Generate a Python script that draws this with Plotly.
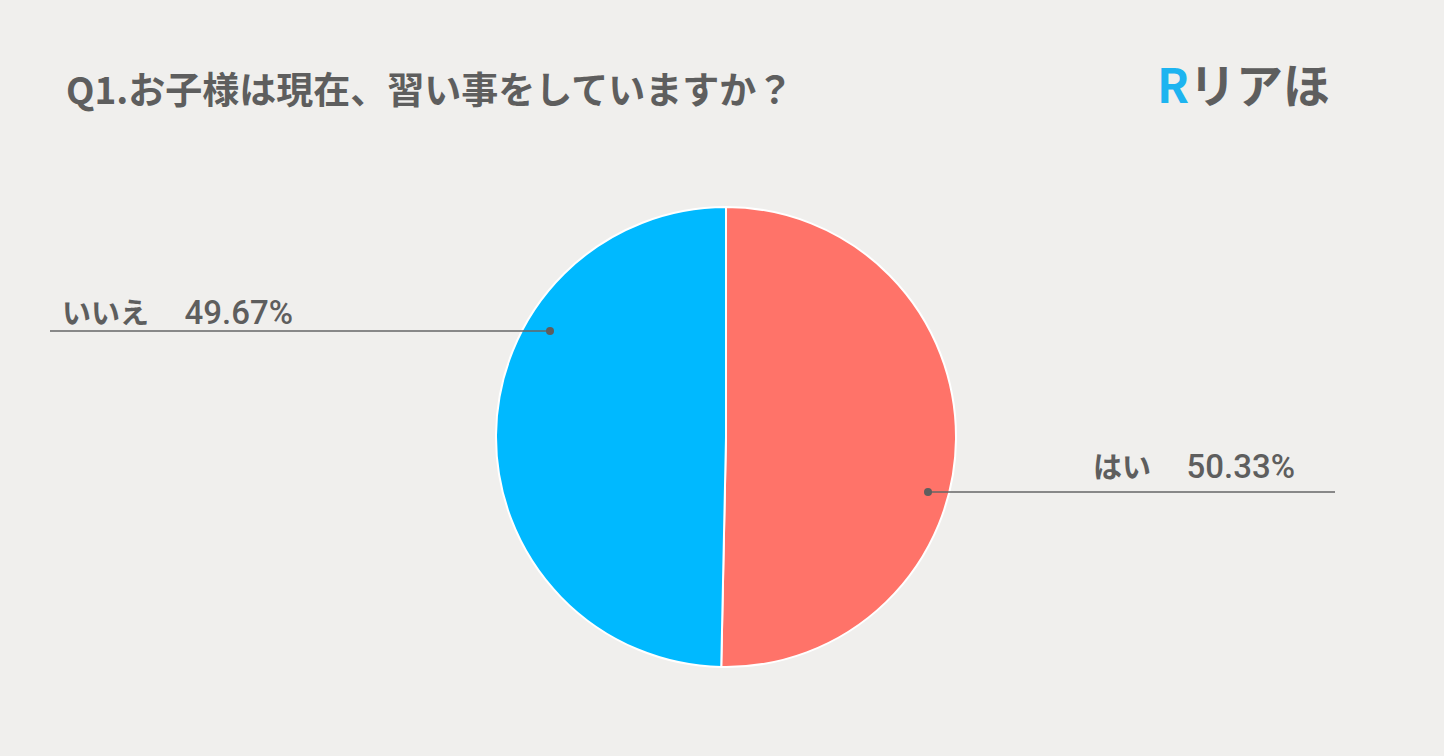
import plotly.graph_objects as go

# Survey answers and their shares (%)
labels = ["はい", "いいえ"]
shares = [50.33, 49.67]
colors = ["#FF7369", "#00B9FF"]

title_text = "Q1.お子様は現在、習い事をしていますか？"

W, H = 1444, 756
BG = "#F0EFED"
TXT = "#5E5E5E"
FONT = "Noto Sans CJK JP"
NUM_FONT = "Roboto"

# pie placement in pixels
cx, cy, r = 726, 437, 230

fig = go.Figure(
    go.Pie(
        labels=labels,
        values=shares,
        sort=False,
        direction="clockwise",
        rotation=0,
        marker=dict(colors=colors, line=dict(color="#FFFFFF", width=2)),
        textinfo="none",
        hoverinfo="label+percent",
        showlegend=False,
        domain=dict(
            x=[(cx - r) / W, (cx + r) / W],
            y=[1 - (cy + r) / H, 1 - (cy - r) / H],
        ),
    )
)


def px(x):
    return x / W


def py(y):
    return 1 - y / H


annotations = [
    dict(
        x=px(64), y=py(88), xref="paper", yref="paper",
        text=f"<b>{title_text}</b>", showarrow=False,
        xanchor="left", yanchor="middle",
        font=dict(family=FONT, size=37, color=TXT),
    ),
    dict(
        x=px(1155), y=py(82), xref="paper", yref="paper",
        text="<b><span style='color:#1DB4F0'>R</span>リアほ</b>", showarrow=False,
        xanchor="left", yanchor="middle",
        font=dict(family=FONT, size=47, color=TXT),
    ),
]

# callout lines with labels: (label index, line y, line x0, line x1, text x, text y, anchor)
callouts = [
    (1, 331, 50, 550, 60, 311, "left"),
    (0, 492, 928, 1335, 1297, 465, "right"),
]
shapes = []
for idx, ly, x0, x1, tx, ty, anchor in callouts:
    shapes.append(dict(
        type="line", xref="paper", yref="paper",
        x0=px(x0), x1=px(x1), y0=py(ly), y1=py(ly),
        line=dict(color="#666666", width=1.3),
    ))
    dot_x = x1 if anchor == "left" else x0
    shapes.append(dict(
        type="circle", xref="paper", yref="paper",
        x0=px(dot_x - 4), x1=px(dot_x + 4), y0=py(ly + 4), y1=py(ly - 4),
        fillcolor="#5E5E5E", line=dict(width=0),
    ))
    annotations.append(dict(
        x=px(tx), y=py(ty), xref="paper", yref="paper",
        text=(f"<b>{labels[idx]}</b>　 "
              f"<span style='font-family:{NUM_FONT};font-size:33px;font-weight:500'>"
              f"{shares[idx]:.2f}%</span>"),
        showarrow=False,
        xanchor=anchor, yanchor="middle",
        font=dict(family=FONT, size=29, color=TXT),
    ))

fig.update_layout(
    width=W, height=H,
    margin=dict(l=0, r=0, t=0, b=0),
    paper_bgcolor=BG, plot_bgcolor=BG,
    annotations=annotations,
    shapes=shapes,
)

fig.write_html("out.html")
